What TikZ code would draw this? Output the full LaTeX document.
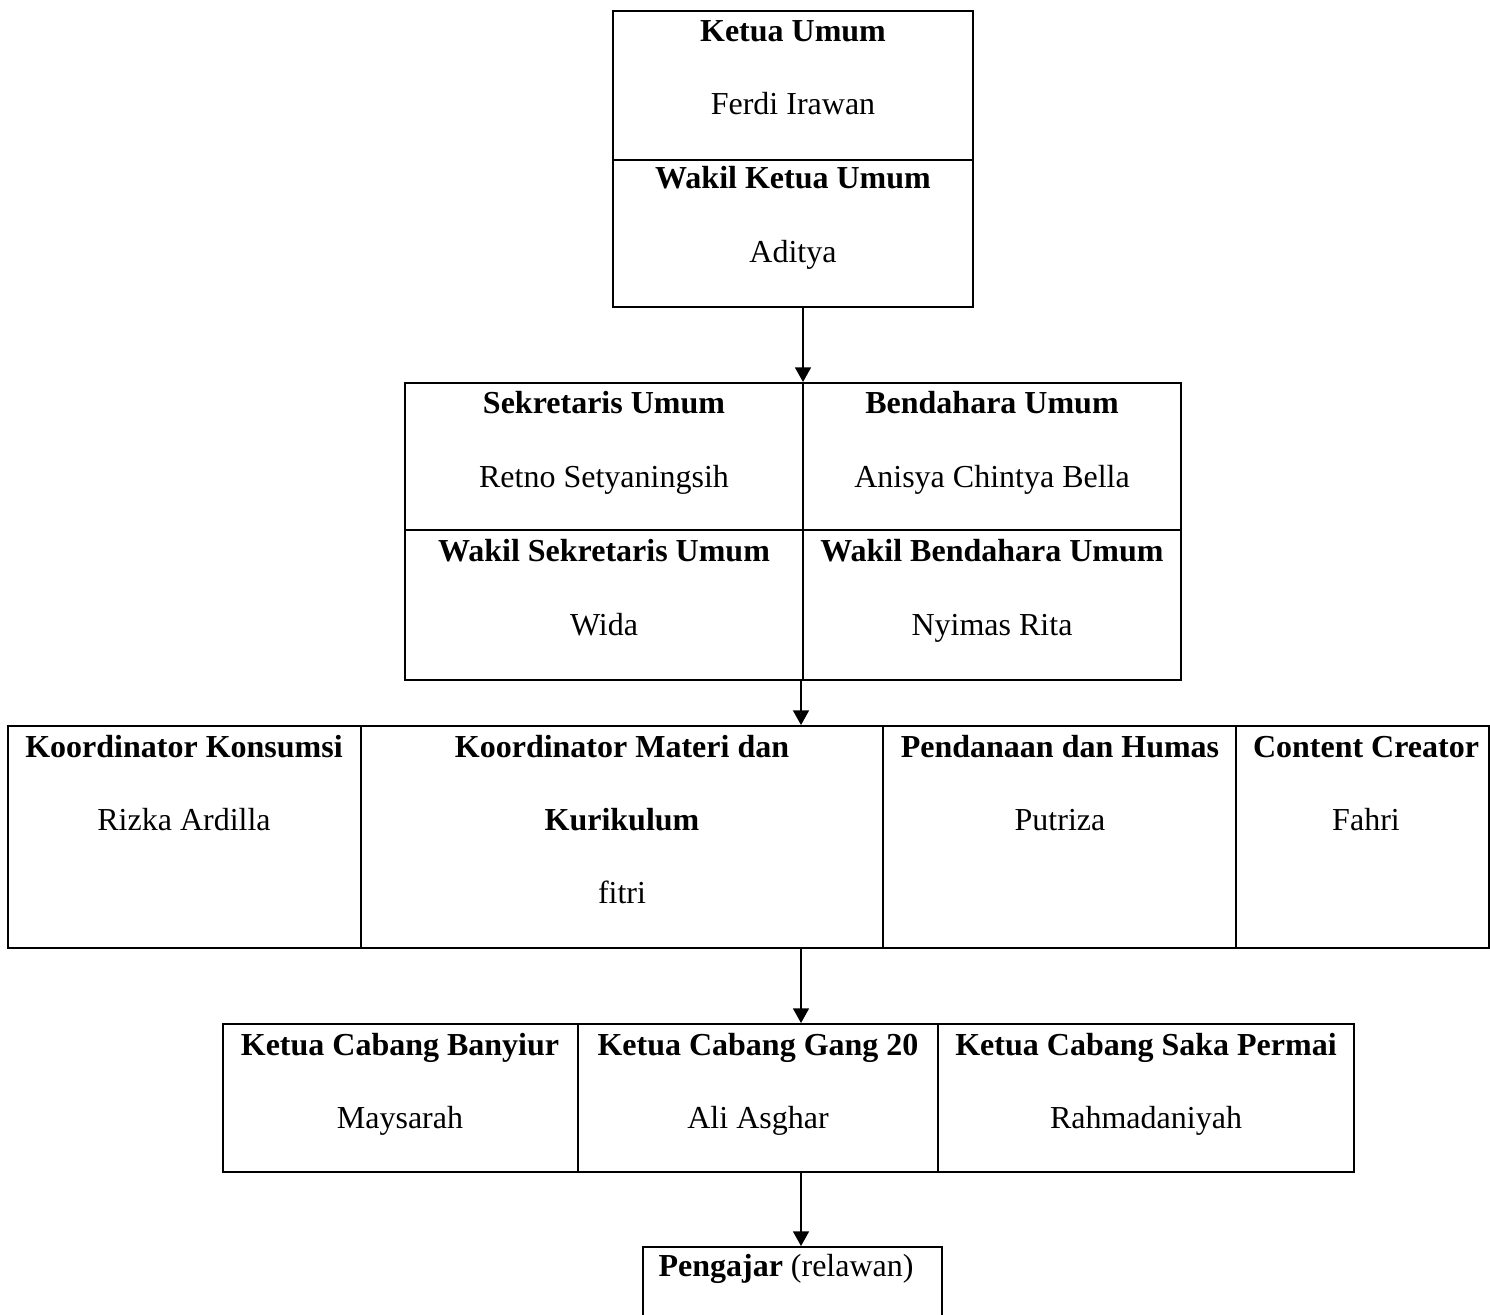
\documentclass[tikz,border=0pt]{standalone}
\usepackage{fontspec}
\setmainfont{Liberation Serif}
\usetikzlibrary{arrows.meta,fit}
\begin{document}
\begin{tikzpicture}[x=0.375pt,y=-0.375pt,
  cell/.style={draw=black,line width=0.75pt,inner sep=0pt},
  hd/.style={font=\fontsize{12}{14}\selectfont\bfseries,anchor=base,inner sep=0pt},
  nm/.style={font=\fontsize{12}{14}\selectfont,anchor=base,inner sep=0pt},
  arr/.style={line width=0.6pt,-{Triangle[length=5.5pt,width=6pt]}}]
\clip (0,0) rectangle (1490,1315);
\fill[white] (0,0) rectangle (1490,1315);
% box 1
\node[cell,fit={(613,11) (973,160)}] (b1a) {};
\node[cell,fit={(613,160) (973,307)}] (b1b) {};
\node[hd] (t1a) at (793,42) {Ketua Umum};
\node[nm] (n1a) at (793,115) {Ferdi Irawan};
\node[hd] (t1b) at (793,189) {Wakil Ketua Umum};
\node[nm] (n1b) at (793,263) {Aditya};
% box 2
\node[cell,fit={(405,383) (803,530)}] (b2a) {};
\node[cell,fit={(803,383) (1181,530)}] (b2b) {};
\node[cell,fit={(405,530) (803,680)}] (b2c) {};
\node[cell,fit={(803,530) (1181,680)}] (b2d) {};
\node[hd] (t2a) at (604,414) {Sekretaris Umum};
\node[nm] (n2a) at (604,487) {Retno Setyaningsih};
\node[hd] (t2c) at (604,561) {Wakil Sekretaris Umum};
\node[nm] (n2c) at (604,635) {Wida};
\node[hd] (t2b) at (992,414) {Bendahara Umum};
\node[nm] (n2b) at (992,487) {Anisya Chintya Bella};
\node[hd] (t2d) at (992,561) {Wakil Bendahara Umum};
\node[nm] (n2d) at (992,635) {Nyimas Rita};
% box 3
\node[cell,fit={(8,726) (361,948)}] (b3a) {};
\node[cell,fit={(361,726) (883,948)}] (b3b) {};
\node[cell,fit={(883,726) (1236,948)}] (b3c) {};
\node[cell,fit={(1236,726) (1489,948)}] (b3d) {};
\node[hd] (t3a) at (184,757) {Koordinator Konsumsi};
\node[nm] (n3a) at (184,830) {Rizka Ardilla};
\node[hd] (t3b) at (622,757) {Koordinator Materi dan};
\node[hd] (t3b2) at (622,830) {Kurikulum};
\node[nm] (n3b) at (622,903) {fitri};
\node[hd] (t3c) at (1060,757) {Pendanaan dan Humas};
\node[nm] (n3c) at (1060,830) {Putriza};
\node[hd] (t3d) at (1366,757) {Content Creator};
\node[nm] (n3d) at (1366,830) {Fahri};
% box 4
\node[cell,fit={(223,1024) (578,1172)}] (b4a) {};
\node[cell,fit={(578,1024) (938,1172)}] (b4b) {};
\node[cell,fit={(938,1024) (1354,1172)}] (b4c) {};
\node[hd] (t4a) at (400,1055) {Ketua Cabang Banyiur};
\node[nm] (n4a) at (400,1128) {Maysarah};
\node[hd] (t4b) at (758,1055) {Ketua Cabang Gang 20};
\node[nm] (n4b) at (758,1128) {Ali Asghar};
\node[hd] (t4c) at (1146,1055) {Ketua Cabang Saka Permai};
\node[nm] (n4c) at (1146,1128) {Rahmadaniyah};
% box 5
\node[cell,fit={(643,1247) (942,1345)}] (b5) {};
\node[nm,anchor=base west] (t5) at (658,1276) {\textbf{Pengajar} (relawan)};
% connectors
\coordinate (xa) at (803,0);
\coordinate (xb) at (801,0);
\draw[arr] (b1b.south -| xa) -- (b2a.north -| xa);
\draw[arr] (b2c.south -| xb) -- (b3b.north -| xb);
\draw[arr] (b3b.south -| xb) -- (b4b.north -| xb);
\draw[arr] (b4b.south -| xb) -- (b5.north -| xb);
\end{tikzpicture}
\end{document}
